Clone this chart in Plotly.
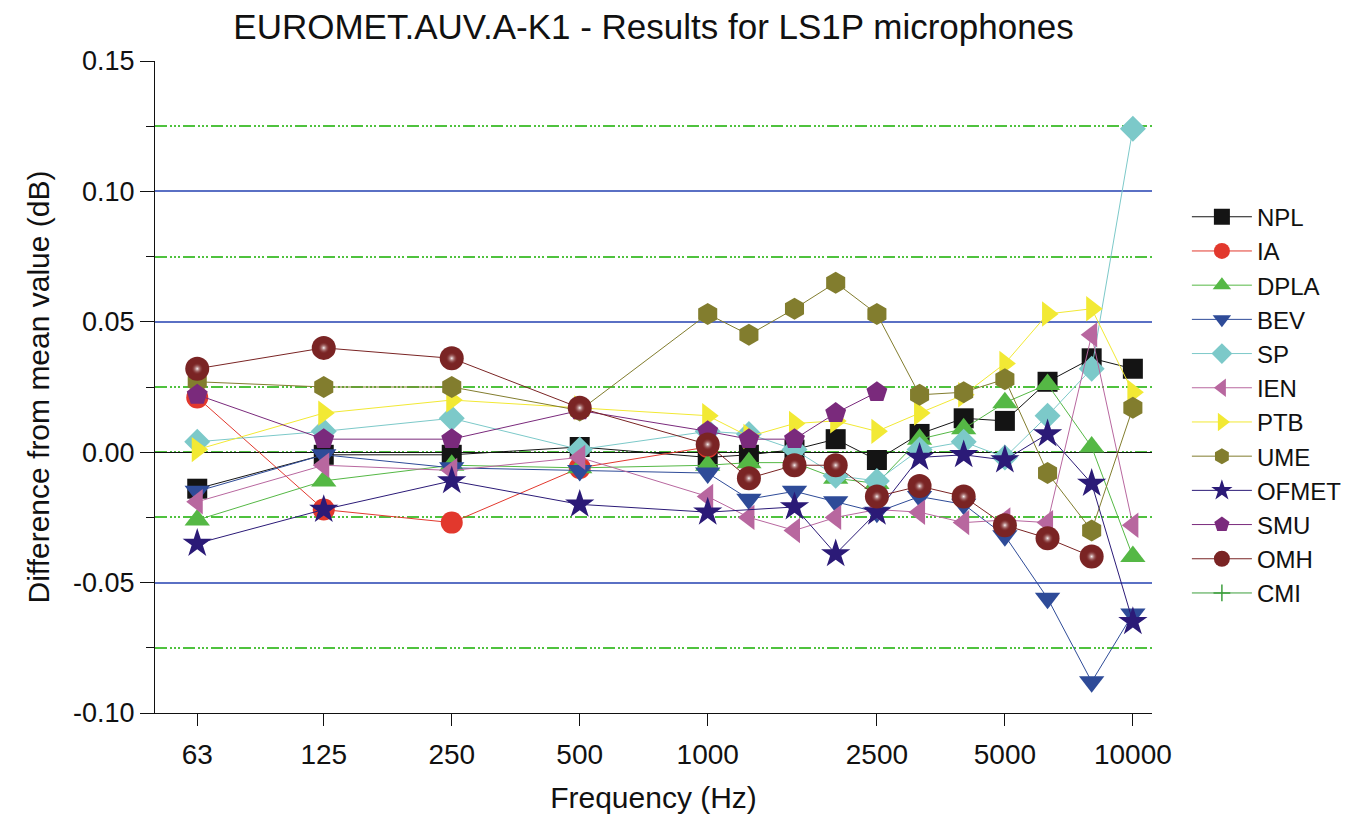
import plotly.graph_objects as go

# Third-octave / octave frequencies (Hz)
freqs = [63, 125, 250, 500, 1000, 1250, 1600, 2000, 2500, 3150, 4000, 5000, 6300, 8000, 10000]

# Difference from mean value (dB) per laboratory
npl   = [-0.014, -0.001, -0.001, 0.002, -0.002, -0.001, 0.001, 0.005, -0.003, 0.007, 0.013, 0.012, 0.027, 0.036, 0.032]
ia    = [0.021, -0.022, -0.027, -0.006, 0.002, None, None, None, None, None, None, None, None, None, None]
dpla  = [-0.026, -0.011, -0.005, -0.006, -0.005, -0.004, -0.004, -0.010, -0.012, 0.005, 0.009, 0.019, 0.026, 0.002, -0.040]
bev   = [-0.015, -0.001, -0.006, -0.007, -0.008, -0.018, -0.015, -0.019, -0.023, -0.017, -0.020, -0.032, -0.056, -0.088, -0.062]
sp    = [0.004, 0.008, 0.013, 0.001, 0.008, 0.007, 0.001, -0.009, -0.011, 0.001, 0.004, -0.002, 0.014, 0.032, 0.124]
ien   = [-0.019, -0.005, -0.007, -0.002, -0.017, -0.025, -0.030, -0.025, -0.022, -0.023, -0.027, -0.026, -0.027, 0.045, -0.028]
ptb   = [0.001, 0.015, 0.020, 0.017, 0.014, 0.006, 0.011, 0.012, 0.008, 0.015, 0.022, 0.034, 0.053, 0.055, 0.023]
ume   = [0.027, 0.025, 0.025, 0.016, 0.053, 0.045, 0.055, 0.065, 0.053, 0.022, 0.023, 0.028, -0.008, -0.030, 0.017]
ofmet = [-0.035, -0.022, -0.011, -0.020, -0.023, None, -0.021, -0.039, -0.023, -0.002, -0.001, -0.003, 0.007, -0.012, -0.065]
smu   = [0.022, 0.005, 0.005, 0.016, 0.008, 0.005, 0.005, 0.015, 0.023, None, None, None, None, None, None]
omh   = [0.032, 0.040, 0.036, 0.017, 0.003, -0.010, -0.005, -0.005, -0.017, -0.013, -0.017, -0.028, -0.033, -0.040, None]
cmi   = [None] * len(freqs)

x_tick_vals = [63, 125, 250, 500, 1000, 2500, 5000, 10000]
x_tick_text = ["63", "125", "250", "500", "1000", "2500", "5000", "10000"]
y_tick_vals = [-0.10, -0.05, 0.0, 0.05, 0.10, 0.15]
y_tick_text = ["-0.10", "-0.05", "0.00", "0.05", "0.10", "0.15"]

series = [
    ("NPL", npl, "#141414", "square", 20),
    ("IA", ia, "#E2382D", "circle", 22),
    ("DPLA", dpla, "#55B845", "triangle-up", 22),
    ("BEV", bev, "#2E4B98", "triangle-down", 22),
    ("SP", sp, "#7CC9C9", "diamond", 20),
    ("IEN", ien, "#B8679F", "triangle-left", 22),
    ("PTB", ptb, "#F2E934", "triangle-right", 22),
    ("UME", ume, "#827D2E", "hexagon", 22),
    ("OFMET", ofmet, "#2B1A77", "star", 22),
    ("SMU", smu, "#7A2A7C", "pentagon", 22),
    ("OMH", omh, "#7A2424", "circle", 24),
    ("CMI", cmi, "#3C9E3C", "cross-thin", 12),
]

fig = go.Figure()
for name, vals, color, symbol, size in series:
    marker = dict(symbol=symbol, size=size, color=color, line=dict(width=0))
    if symbol == "cross-thin":
        marker["line"] = dict(width=1.5, color=color)
    fig.add_trace(go.Scatter(
        x=freqs, y=vals, name=name, mode="lines+markers",
        line=dict(color=color, width=1),
        marker=marker,
        connectgaps=True,
    ))
    if name == "OMH":
        # glossy highlight on the OMH spheres
        fig.add_trace(go.Scatter(
            x=freqs, y=vals, mode="markers", showlegend=False, hoverinfo="skip",
            marker=dict(symbol="circle", size=12, color="rgba(122,36,36,0)",
                        line=dict(width=0),
                        gradient=dict(type="radial", color="rgba(255,255,255,0.95)")),
        ))

font_main = "Liberation Sans, Arial, sans-serif"
font_narrow = "Liberation Sans Narrow, Arial Narrow, Liberation Sans, sans-serif"
blue_grid = "#5A70C4"
green_grid = "#4FC23E"

fig.update_layout(
    width=1370, height=821,
    margin=dict(l=155, r=218, t=61, b=108),
    paper_bgcolor="white", plot_bgcolor="white",
    font=dict(family=font_main, color="#111111"),
    title=dict(text="EUROMET.AUV.A-K1 - Results for LS1P microphones",
               x=0.477, xanchor="center", y=0.967, yanchor="middle",
               font=dict(size=35, family=font_main, color="#111111")),
    legend=dict(x=1.035, xanchor="left", y=0.795, yanchor="top",
                font=dict(size=24, family=font_main, color="#111111"),
                itemwidth=60, bgcolor="rgba(0,0,0,0)", tracegroupgap=0),
    xaxis=dict(
        type="log", range=[1.700, 4.045],
        tickvals=x_tick_vals, ticktext=x_tick_text,
        tickfont=dict(size=28, family=font_narrow, color="#111111"),
        ticks="outside", ticklen=12, tickcolor="#111111", ticklabelstandoff=4,
        showline=True, linecolor="#111111", linewidth=1,
        showgrid=False, zeroline=False,
        title=dict(text="Frequency (Hz)", standoff=18,
                   font=dict(size=30, family=font_narrow, color="#111111")),
    ),
    yaxis=dict(
        range=[-0.1, 0.15], tickmode="array",
        tickvals=y_tick_vals, ticktext=y_tick_text,
        tickfont=dict(size=27, family=font_main, color="#111111"),
        ticks="outside", ticklen=14, tickcolor="#111111",
        showline=True, linecolor="#111111", linewidth=1,
        showgrid=True, gridcolor=blue_grid, gridwidth=1.6,
        zeroline=True, zerolinecolor="#111111", zerolinewidth=1.2,
        minor=dict(tickmode="linear", tick0=0, dtick=0.025, showgrid=True,
                   gridcolor=green_grid, gridwidth=1.5,
                   griddash="12px,3px,2px,2px,2px,2px,2px,3px",
                   ticks="outside", ticklen=8, tickcolor="#111111"),
        title=dict(text="Difference from mean value (dB)", standoff=14,
                   font=dict(size=30, family=font_main, color="#111111")),
    ),
)

fig.write_html("out.html")
